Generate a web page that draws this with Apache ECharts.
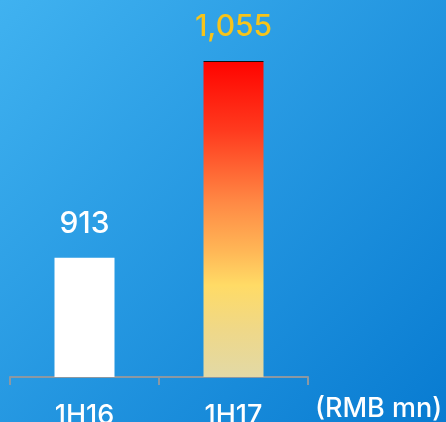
<!DOCTYPE html>
<html>
<head>
<meta charset="utf-8">
<style>
  html, body { margin: 0; padding: 0; }
  #chart { width: 446px; height: 422px; }
</style>
<script src="https://cdn.jsdelivr.net/npm/echarts@6/dist/echarts.min.js"></script>
</head>
<body>
<div id="chart"></div>
<script>
// Half-year totals, RMB mn
const periods = ['1H16', '1H17'];
const totals = [913, 1055];
const unitLabel = '(RMB mn)';

const FONT = 'Inter, Lato, sans-serif';

// later period gets the warm fade with a thin dark cap
const warmFade = new echarts.graphic.LinearGradient(0, 0, 0, 1, [
  { offset: 0, color: '#111111' },
  { offset: 0.003, color: '#111111' },
  { offset: 0.0035, color: '#FF0400' },
  { offset: 0.22, color: '#FF3A1E' },
  { offset: 0.45, color: '#FF8A45' },
  { offset: 0.6, color: '#FFB656' },
  { offset: 0.71, color: '#FFDB66' },
  { offset: 0.85, color: '#EFD888' },
  { offset: 1, color: '#E2D9A6' }
]);

const barStyles = [
  { color: '#FFFFFF', labelColor: '#FFFFFF' },
  { color: warmFade, labelColor: '#F7C41A' }
];

const chart = echarts.init(document.getElementById('chart'));
chart.setOption({
  backgroundColor: new echarts.graphic.LinearGradient(0, 0, 1, 1, [
    { offset: 0, color: '#40B2F0' },
    { offset: 1, color: '#087BD1' }
  ]),
  animation: false,
  title: {
    text: unitLabel,
    left: 310,
    top: 390,
    textStyle: { color: '#FFFFFF', fontFamily: FONT, fontSize: 27, fontWeight: 500 }
  },
  grid: { left: 10, right: 138, top: 61, bottom: 45, outerBoundsMode: 'none', containLabel: false },
  xAxis: {
    type: 'category',
    data: periods,
    axisLine: { lineStyle: { color: '#8C98A2', width: 2 } },
    axisTick: { show: true, length: 8, lineStyle: { color: '#8C98A2', width: 2 } },
    axisLabel: { color: '#FFFFFF', fontFamily: FONT, fontSize: 27, fontWeight: 500, margin: 25 }
  },
  yAxis: {
    type: 'value',
    min: 827,
    max: 1055,
    show: false,
    splitLine: { show: false }
  },
  series: [{
    type: 'bar',
    barWidth: 60,
    data: totals.map((v, i) => ({
      value: v,
      itemStyle: { color: barStyles[i].color },
      label: { color: barStyles[i].labelColor }
    })),
    label: {
      show: true,
      position: 'top',
      distance: 19,
      fontFamily: FONT,
      fontSize: 30,
      fontWeight: 500,
      formatter: p => p.value.toLocaleString('en-US')
    }
  }]
});
</script>
</body>
</html>
